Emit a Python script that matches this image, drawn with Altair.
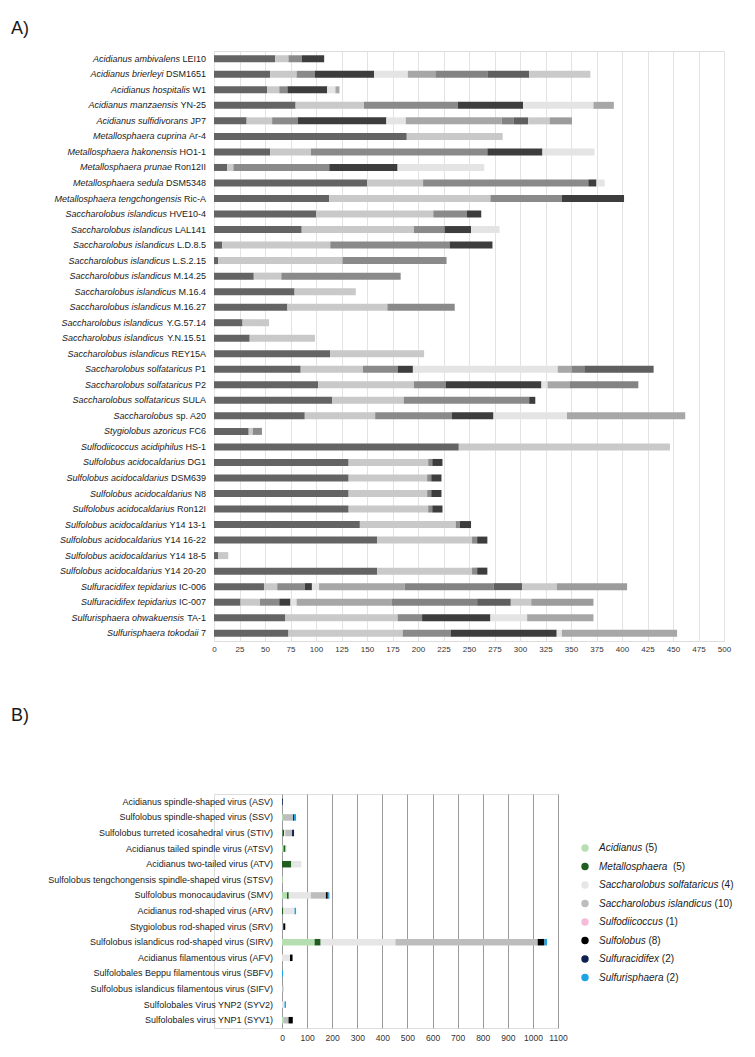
import altair as alt
import pandas as pd

# ---------------- Panel A data ----------------
species_a = [
    "Acidianus ambivalens", "Acidianus brierleyi", "Acidianus hospitalis", "Acidianus manzaensis",
    "Acidianus sulfidivorans", "Metallosphaera cuprina", "Metallosphaera hakonensis", "Metallosphaera prunae",
    "Metallosphaera sedula", "Metallosphaera tengchongensis",
    "Saccharolobus islandicus", "Saccharolobus islandicus", "Saccharolobus islandicus", "Saccharolobus islandicus",
    "Saccharolobus islandicus", "Saccharolobus islandicus", "Saccharolobus islandicus", "Saccharolobus islandicus",
    "Saccharolobus islandicus", "Saccharolobus islandicus",
    "Saccharolobus solfataricus", "Saccharolobus solfataricus", "Saccharolobus solfataricus", "Saccharolobus",
    "Stygiolobus azoricus", "Sulfodiicoccus acidiphilus",
    "Sulfolobus acidocaldarius", "Sulfolobus acidocaldarius", "Sulfolobus acidocaldarius", "Sulfolobus acidocaldarius",
    "Sulfolobus acidocaldarius", "Sulfolobus acidocaldarius", "Sulfolobus acidocaldarius", "Sulfolobus acidocaldarius",
    "Sulfuracidifex tepidarius", "Sulfuracidifex tepidarius", "Sulfurisphaera ohwakuensis", "Sulfurisphaera tokodaii",
]
strain_a = [
    "LEI10", "DSM1651", "W1", "YN-25", "JP7", "Ar-4", "HO1-1", "Ron12II", "DSM5348", "Ric-A",
    "HVE10-4", "LAL141", "L.D.8.5", "L.S.2.15", "M.14.25", "M.16.4", "M.16.27", "Y.G.57.14", "Y.N.15.51", "REY15A",
    "P1", "P2", "SULA", "sp. A20", "FC6", "HS-1",
    "DG1", "DSM639", "N8", "Ron12I", "Y14 13-1", "Y14 16-22", "Y14 18-5", "Y14 20-20",
    "IC-006", "IC-007", "TA-1", "7",
]
segments_a = [
    [60, 13, 13, 22],
    [55, 26, 18, 58, 33, 27, 51, 41, 60],
    [52, 12, 8, 39, 8, 4],
    [80, 67, 92, 64, 69, 20],
    [32, 25, 25, 87, 19, 94, 12, 14, 21, 22],
    [189, 94],
    [55, 40, 173, 54, 51],
    [13, 6, 94, 67, 85],
    [150, 55, 162, 8, 8],
    [113, 158, 70, 61],
    [100, 115, 33, 14],
    [86, 110, 30, 26, 28],
    [8, 106, 117, 42],
    [4, 122, 102],
    [39, 27, 117],
    [79, 60],
    [72, 98, 66],
    [28, 26],
    [35, 64],
    [114, 92],
    [85, 61, 34, 15, 142, 14, 12, 68],
    [102, 94, 31, 94, 6, 22, 67],
    [116, 70, 123, 6],
    [89, 69, 75, 41, 72, 116],
    [34, 4, 9],
    [240, 207],
    [132, 78, 4, 10],
    [132, 77, 4, 10],
    [132, 77, 4, 10],
    [132, 78, 4, 10],
    [143, 94, 4, 11],
    [160, 93, 5, 10],
    [4, 10],
    [160, 93, 5, 10],
    [49, 13, 27, 7, 7, 84, 87, 28, 34, 69],
    [26, 19, 19, 11, 6, 93, 84, 33, 20, 61],
    [70, 110, 24, 67, 36, 65],
    [73, 112, 47, 104, 5, 113],
]
seg_colors = ["#646464", "#c9c9c9", "#8a8a8a", "#3d3d3d", "#e4e4e4",
              "#a7a7a7", "#838383", "#5f5f5f", "#cacaca", "#9c9c9c"]
ticks_a = list(range(0, 501, 25))

# ---------------- Panel B data ----------------
viruses_b = [
    "Acidianus spindle-shaped virus (ASV)",
    "Sulfolobus spindle-shaped virus (SSV)",
    "Sulfolobus turreted icosahedral virus (STIV)",
    "Acidianus tailed spindle virus (ATSV)",
    "Acidianus two-tailed virus (ATV)",
    "Sulfolobus tengchongensis spindle-shaped virus (STSV)",
    "Sulfolobus monocaudavirus (SMV)",
    "Acidianus rod-shaped virus (ARV)",
    "Stygiolobus rod-shaped virus (SRV)",
    "Sulfolobus islandicus rod-shaped virus (SIRV)",
    "Acidianus filamentous virus (AFV)",
    "Sulfolobales Beppu filamentous virus (SBFV)",
    "Sulfolobus islandicus filamentous virus (SIFV)",
    "Sulfolobales Virus YNP2 (SYV2)",
    "Sulfolobales virus YNP1 (SYV1)",
]
genera_b = ["Acidianus", "Metallosphaera", "Saccharolobus solfataricus", "Saccharolobus islandicus",
            "Sulfodiicoccus", "Sulfolobus", "Sulfuracidifex", "Sulfurisphaera"]
genus_counts = ["(5)", "(5)", "(4)", "(10)", "(1)", "(8)", "(2)", "(2)"]
genus_colors = ["#b5dfb0", "#1f5e1f", "#e6e6e6", "#bdbdbd", "#f4bcd9", "#000000", "#0f2150", "#1ba3e6"]
acidianus_b =      [0, 4, 2, 6, 0, 3, 20, 0, 0, 130, 0, 0, 0, 0, 8]
metallosphaera_b = [0, 0, 6, 8, 37, 0, 7, 5, 0, 24, 0, 0, 0, 0, 0]
solfataricus_b =   [0, 0, 5, 5, 40, 0, 88, 45, 0, 298, 32, 0, 0, 10, 0]
islandicus_b =     [0, 40, 27, 0, 0, 0, 60, 0, 5, 567, 0, 0, 6, 0, 18]
sulfodiicoccus_b = [0, 0, 0, 0, 0, 0, 0, 0, 0, 0, 0, 0, 0, 0, 0]
sulfolobus_b =     [0, 0, 0, 0, 0, 0, 7, 0, 8, 27, 10, 0, 0, 0, 17]
sulfuracidifex_b = [3, 4, 8, 0, 0, 0, 3, 0, 0, 0, 0, 0, 0, 0, 0]
sulfurisphaera_b = [0, 8, 0, 0, 0, 0, 4, 6, 0, 10, 0, 4, 0, 6, 0]
ticks_b = list(range(0, 1101, 100))

FONT = "Liberation Sans"
TXT = "#1a1a1a"

# Arial / Liberation Sans advance widths (per 1000 em), for label layout
W = {" ": 278, "(": 333, ")": 333, "-": 333, ".": 278, "/": 278}
for c in "0123456789":
    W[c] = 556
W.update(dict(zip("ABCDEFGHIJKLMNOPQRSTUVWXYZ",
                  [667, 667, 722, 722, 667, 611, 778, 722, 278, 500, 667, 556, 833, 722, 778, 667, 778, 722,
                   667, 611, 722, 667, 944, 667, 667, 611])))
W.update(dict(zip("abcdefghijklmnopqrstuvwxyz",
                  [556, 556, 500, 556, 556, 278, 556, 556, 222, 222, 500, 222, 833, 556, 556, 556, 556, 333,
                   500, 278, 556, 500, 722, 500, 500, 500])))


def tw(s, size):
    return sum(W.get(ch, 556) for ch in s) * size / 1000.0


# ---------------- Panel A chart ----------------
H_A = 590
W_A = 510
px_per_unit_a = W_A / 500.0
lab_size = 9
lab_gap = 8

rows = []
for i, segs in enumerate(segments_a):
    s = 0
    for j, L in enumerate(segs):
        rows.append({"row": i, "seg": j, "start": s, "end": s + L})
        s += L
df_a = pd.DataFrame(rows)

lab_rows = []
for i, (sp, st) in enumerate(zip(species_a, strain_a)):
    off = lab_gap + tw(st, lab_size) + tw(" ", lab_size)
    lab_rows.append({"row": i, "species": sp, "strain": st, "sx": -off / px_per_unit_a})
df_lab_a = pd.DataFrame(lab_rows)

scale_a = alt.Scale(domain=[0, 500], nice=False, zero=False)
axis_a = alt.Axis(values=ticks_a, grid=True, gridColor="#e3e3e3", gridWidth=1, domain=False,
                  ticks=False, labelFontSize=8, labelPadding=4, labelColor="#333333",
                  labelFont=FONT, title=None, labelFlush=False, labelOverlap=False, format="d")
y_a = alt.Y("row:O", axis=None, scale=alt.Scale(paddingInner=0, paddingOuter=0))

bars_a = alt.Chart(df_a).mark_bar(size=7).encode(
    x=alt.X("start:Q", scale=scale_a, axis=axis_a), x2="end:Q", y=y_a,
    color=alt.Color("seg:O", scale=alt.Scale(domain=list(range(10)), range=seg_colors), legend=None),
)
strain_txt = alt.Chart(df_lab_a).mark_text(align="right", baseline="middle", fontSize=lab_size,
                                           font=FONT, color=TXT).encode(
    x=alt.value(-lab_gap), y=y_a, text="strain:N")
species_txt = alt.Chart(df_lab_a).mark_text(align="right", baseline="middle", fontSize=lab_size,
                                            font=FONT, fontStyle="italic", color=TXT).encode(
    x=alt.X("sx:Q", scale=scale_a, axis=axis_a), y=y_a, text="species:N")
title_a = alt.Chart(pd.DataFrame({"t": ["A)"]})).mark_text(
    align="left", baseline="alphabetic", fontSize=18, font=FONT, color=TXT).encode(
    x=alt.value(-203), y=alt.value(-17), text="t:N")

chart_a = alt.layer(bars_a, strain_txt, species_txt, title_a).properties(width=W_A, height=H_A)

# ---------------- Panel B chart ----------------
H_B = 234
W_B = 344
X0_B = 68
per_genus = [acidianus_b, metallosphaera_b, solfataricus_b, islandicus_b,
             sulfodiicoccus_b, sulfolobus_b, sulfuracidifex_b, sulfurisphaera_b]
rows_b = []
for vi, v in enumerate(viruses_b):
    s = 0
    for gi, g in enumerate(genera_b):
        val = per_genus[gi][vi]
        if val > 0:
            rows_b.append({"virus": v, "genus": g, "start": s, "end": s + val})
            s += val
df_b = pd.DataFrame(rows_b)

scale_b = alt.Scale(domain=[0, 1100], range=[X0_B, W_B], nice=False, zero=False)
axis_b = alt.Axis(values=ticks_b, grid=True, gridColor="#9a9a9a", gridWidth=1, domain=False,
                  ticks=False, labelFontSize=8.5, labelPadding=5, labelColor="#333333",
                  labelFont=FONT, title=None, labelFlush=False, labelOverlap=False, format="d")
y_b = alt.Y("virus:N", sort=viruses_b, axis=None, scale=alt.Scale(paddingInner=0, paddingOuter=0))
color_b = alt.Color("genus:N", scale=alt.Scale(domain=genera_b, range=genus_colors), legend=None)

bars_b = alt.Chart(df_b).mark_bar(size=6.5).encode(
    x=alt.X("start:Q", scale=scale_b, axis=axis_b), x2="end:Q", y=y_b, color=color_b)
vir_txt = alt.Chart(pd.DataFrame({"virus": viruses_b})).mark_text(
    align="right", baseline="middle", fontSize=9, font=FONT, color=TXT).encode(
    x=alt.value(X0_B - 9), y=y_b, text="virus:N")

leg_size = 10
unit_per_px_b = 1100.0 / (W_B - X0_B)
leg_rows = []
for g, cnt in zip(genera_b, genus_counts):
    sep = "  " if g == "Metallosphaera" else " "
    cx = 385 + tw(g, leg_size) + tw(sep, leg_size)
    leg_rows.append({"genus": g, "count": cnt, "cx": (cx - X0_B) * unit_per_px_b})
df_leg = pd.DataFrame(leg_rows)
y_leg = alt.Y("genus:N", sort=genera_b, axis=None,
              scale=alt.Scale(type="point", range=[54, 54 + 7 * 18.5], padding=0))
leg_pts = alt.Chart(df_leg).mark_point(filled=True, size=55, opacity=1, shape="circle").encode(
    x=alt.value(371), y=y_leg, color=color_b)
leg_txt = alt.Chart(df_leg).mark_text(align="left", baseline="middle", fontSize=leg_size, font=FONT,
                                      fontStyle="italic", color=TXT).encode(
    x=alt.value(385), y=y_leg, text="genus:N")
leg_cnt = alt.Chart(df_leg).mark_text(align="left", baseline="middle", fontSize=leg_size, font=FONT,
                                      color=TXT).encode(
    x=alt.X("cx:Q", scale=scale_b, axis=axis_b), y=y_leg, text="count:N")
title_b = alt.Chart(pd.DataFrame({"t": ["B)"]})).mark_text(
    align="left", baseline="alphabetic", fontSize=18, font=FONT, color=TXT).encode(
    x=alt.value(-203), y=alt.value(-73), text="t:N")

chart_b = alt.layer(bars_b, vir_txt, leg_pts, leg_txt, leg_cnt, title_b).resolve_scale(
    y="independent").properties(width=W_B, height=H_B)

chart = alt.vconcat(chart_a, chart_b, spacing=52).resolve_scale(color="independent").properties(
    padding={"left": 2, "top": 11, "right": 5, "bottom": 5}
).configure_view(strokeWidth=0).configure(font=FONT)

chart.save("out.html", embed_options={"renderer": "svg", "actions": False})
